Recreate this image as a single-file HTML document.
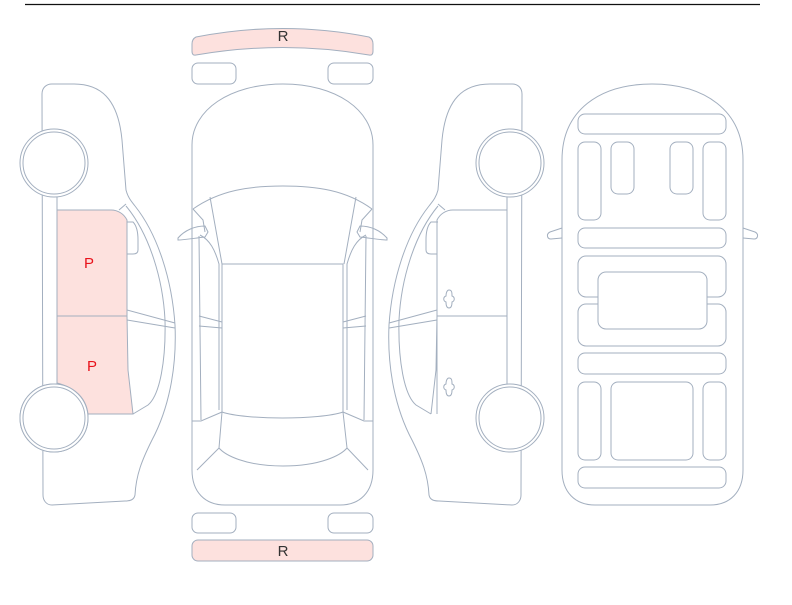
<!DOCTYPE html>
<html><head><meta charset="utf-8"><style>
html,body{margin:0;padding:0;background:#fff;width:792px;height:605px;overflow:hidden}
svg{display:block}
text{font-family:"Liberation Sans",sans-serif;font-size:15px}
</style></head><body>
<svg width="792" height="605" viewBox="0 0 792 605" xmlns="http://www.w3.org/2000/svg">
<line x1="25" y1="4.5" x2="760" y2="4.5" stroke="#111" stroke-width="1.2"/>
<g fill="none" stroke="#a3afbf" stroke-width="1">
<!-- top bumper -->
<path d="M196,37 Q283,20 369,37 Q373,39 373,44 L373,51 Q373,56 369,55 Q283,40 196,55 Q192,56 192,51 L192,44 Q192,39 196,37 Z" fill="#fde1de"/>
<rect x="192" y="63" width="44" height="21" rx="6"/>
<rect x="328" y="63" width="45" height="21" rx="6"/>
<rect x="192" y="513" width="44" height="20" rx="6"/>
<rect x="328" y="513" width="45" height="20" rx="6"/>
<rect x="192" y="540" width="181" height="21" rx="6" fill="#fde1de"/>
<!-- top view -->
<path d="M192,145 C192,110 230,84 283,84 C336,84 373,110 373,145 L373,470 C373,492 360,505 340,505 L225,505 C205,505 192,492 192,470 Z"/>
<path d="M193,209 C220,190 250,186 283,186 C316,186 346,190 372,209"/>
<path d="M193,209 L203,220 L205,232 M372,209 L362,220 L360,232"/>
<path d="M210,197 L222,264 M356,197 L344,264"/>
<path d="M200,235 C210,240 215,250 219,264 L219,410 M366,235 C356,240 351,250 347,264 L347,410"/>
<path d="M178,238 C185,230 195,226 205,226 L208,232 L205,237 C195,238 185,240 178,240 Z"/>
<path d="M387,238 C380,230 370,226 360,226 L357,232 L360,237 C370,238 380,240 387,240 Z"/>
<rect x="222" y="264" width="121" height="0"/>
<path d="M222,264 L343,264 L343,412 C320,420 245,420 222,412 Z"/>
<path d="M199,236 L201,420 M366,236 L364,420"/>
<path d="M199,316 L222,322 M199,326 L222,328 M366,316 L343,322 M366,326 L343,328"/>
<path d="M192,421 L201,421 L222,412 M373,421 L364,421 L343,412"/>
<path d="M222,412 L219,448 C225,455 245,466 283,466 C321,466 341,455 347,448 L343,412"/>
<path d="M219,448 L197,470 M347,448 L368,470"/>
<!-- left side view -->
<g id="side">
<path d="M52,84 L74,84 C100,84 118,98 122,140 L126,190 C128,198 132,202 135,206 C158,235 172,280 175,325 C177,370 168,410 152,440 C142,460 136,475 135,495 C134,500 130,501 125,501 L52,505 C46,505 43,500 43,495 L42,94 C42,88 46,84 52,84 Z"/>
<path d="M126,206 C150,235 163,280 165,320 C166,360 160,395 148,405 L133,414"/>
<path d="M119,210 L126,204 M127,221 L127,414"/>
<path d="M127,310 L175,323 M127,320 L175,328"/>
<path d="M126,222 L133,222 C137,226 138,232 138,240 L138,250 C138,253 136,254 133,254 L127,254"/>
<path d="M57,195 L57,385 M42,195 L57,195"/>
<circle cx="54" cy="163" r="34" fill="#fff"/>
<circle cx="54" cy="163" r="31"/>
<circle cx="54" cy="418" r="34" fill="#fff"/>
<circle cx="54" cy="418" r="31"/>
</g>
<path d="M57,210 L111,210 C118,210 124,214 127,220 L127,316 L128,370 L133,414 L88,414 C86,398 76,388 57,383 Z" fill="#fde1de" stroke="#a3afbf"/>
<line x1="57" y1="316" x2="127" y2="316"/>
<circle cx="54" cy="418" r="34" fill="#fff"/>
<circle cx="54" cy="418" r="31"/>
<!-- right side view mirrored -->
<g transform="translate(564,0) scale(-1,1)">
<use href="#side"/>
<path d="M57,210 L111,210 C118,210 124,214 127,220 L127,316 L128,370 L133,414"/>
<line x1="57" y1="316" x2="127" y2="316"/>
</g>
<path d="M449,290 C452,290 452,293 452,296 C455,297 455,301 452,302 C452,306 451,308 449,308 C447,308 446,306 446,302 C443,301 443,297 446,296 C446,293 447,290 449,290 Z"/>
<path d="M449,378 C452,378 452,381 452,384 C455,385 455,389 452,390 C452,394 451,396 449,396 C447,396 446,394 446,390 C443,389 443,385 446,384 C446,381 447,378 449,378 Z"/>
<!-- underbody -->
<path d="M562,160 C562,110 600,84 652,84 C704,84 743,110 743,160 L743,470 C743,492 730,505 710,505 L595,505 C575,505 562,492 562,470 Z"/>
<path d="M562,228 L550,232 C546,234 547,239 551,239 L562,238 M743,228 L755,232 C759,234 758,239 754,239 L743,238"/>
<rect x="578" y="114" width="148" height="20" rx="7"/>
<rect x="578" y="142" width="23" height="78" rx="7"/>
<rect x="611" y="142" width="23" height="52" rx="7"/>
<rect x="670" y="142" width="23" height="52" rx="7"/>
<rect x="703" y="142" width="23" height="78" rx="7"/>
<rect x="578" y="228" width="148" height="20" rx="7"/>
<rect x="578" y="256" width="148" height="41" rx="8"/>
<rect x="578" y="304" width="148" height="42" rx="8"/>
<rect x="598" y="272" width="109" height="57" rx="8" fill="#fff"/>
<rect x="578" y="353" width="148" height="21" rx="7"/>
<rect x="578" y="382" width="23" height="78" rx="7"/>
<rect x="611" y="382" width="82" height="78" rx="7"/>
<rect x="703" y="382" width="23" height="78" rx="7"/>
<rect x="578" y="467" width="148" height="21" rx="7"/>
</g>
<text x="283" y="41" text-anchor="middle" fill="#333">R</text>
<text x="283" y="556" text-anchor="middle" fill="#333">R</text>
<text x="89" y="268" text-anchor="middle" fill="#e8121b">P</text>
<text x="92" y="371" text-anchor="middle" fill="#e8121b">P</text>
</svg>
</body></html>
